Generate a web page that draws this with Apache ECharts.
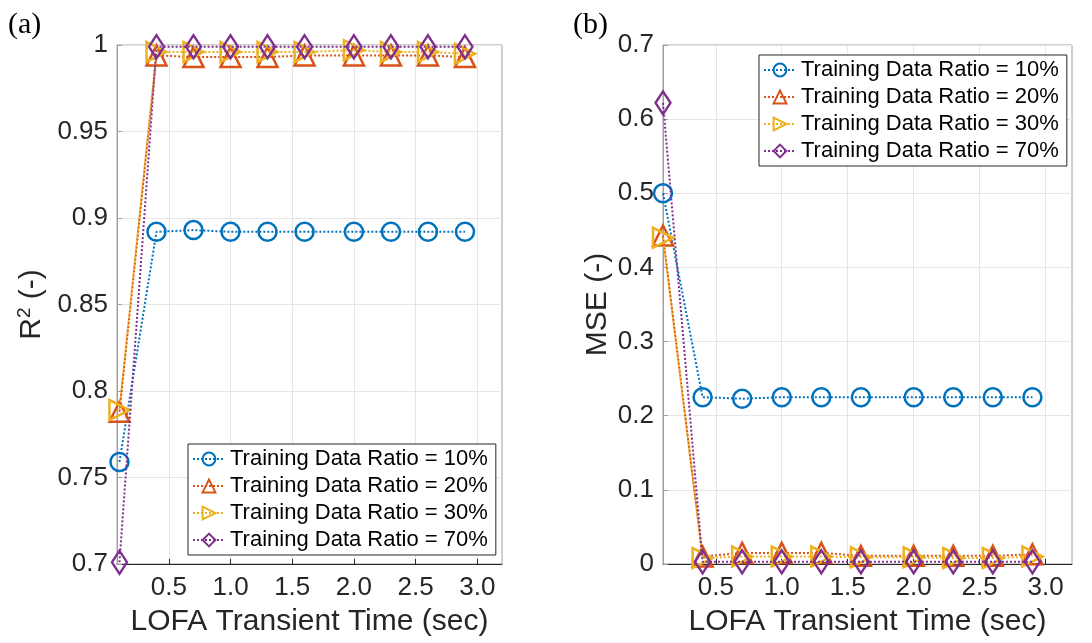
<!DOCTYPE html>
<html>
<head>
<meta charset="utf-8">
<script src="https://cdn.jsdelivr.net/npm/echarts@6/dist/echarts.min.js"></script>
<style>
  html, body { margin: 0; padding: 0; background: #fff; }
  #main { width: 1092px; height: 643px; }
</style>
</head>
<body>
<div id="main"></div>
<script>
// transient times (sec)
var xVals = [0.1, 0.4, 0.7, 1.0, 1.3, 1.6, 2.0, 2.3, 2.6, 2.9];
var xTicks = [0.5, 1.0, 1.5, 2.0, 2.5, 3.0];

var seriesNames = ['Training Data Ratio = 10%', 'Training Data Ratio = 20%',
                   'Training Data Ratio = 30%', 'Training Data Ratio = 70%'];

// (a) R^2
var r2_10 = [0.759, 0.892, 0.893, 0.892, 0.892, 0.892, 0.892, 0.892, 0.892, 0.892];
var r2_20 = [0.788, 0.994, 0.993, 0.993, 0.993, 0.994, 0.994, 0.994, 0.994, 0.993];
var r2_30 = [0.789, 0.996, 0.996, 0.996, 0.996, 0.996, 0.997, 0.996, 0.996, 0.995];
var r2_70 = [0.701, 0.999, 0.999, 0.999, 0.999, 0.999, 0.999, 0.999, 0.999, 0.999];

// (b) MSE
var mse_10 = [0.500, 0.225, 0.223, 0.225, 0.225, 0.225, 0.225, 0.225, 0.225, 0.225];
var mse_20 = [0.443, 0.010, 0.015, 0.015, 0.015, 0.011, 0.011, 0.011, 0.011, 0.013];
var mse_30 = [0.440, 0.008, 0.010, 0.010, 0.010, 0.009, 0.009, 0.008, 0.008, 0.010];
var mse_70 = [0.622, 0.003, 0.003, 0.003, 0.003, 0.003, 0.003, 0.003, 0.003, 0.003];

var colors = ['#0072BD', '#D95319', '#EDB120', '#7E2F8E'];
var symbols = ['circle', 'triangle', 'triangle', 'diamond'];
var rotates = [0, 0, -90, 0];
var sizes = [18, 20, 20, [15, 23]];

function pairs(ys) {
  return xVals.map(function (x, i) { return [x, ys[i]]; });
}

function makeSeries(idx, ys, k) {
  return {
    name: seriesNames[k],
    type: 'line',
    xAxisIndex: idx,
    yAxisIndex: idx,
    data: pairs(ys),
    symbol: symbols[k],
    symbolRotate: rotates[k],
    symbolSize: sizes[k],
    showAllSymbol: true,
    lineStyle: { color: colors[k], width: 2, type: [2, 2] },
    itemStyle: { color: 'rgba(255,255,255,0)', borderColor: colors[k], borderWidth: 2.5 },
    emphasis: { disabled: true },
    z: 3 + k
  };
}

function xAxisOpt(idx, min) {
  return {
    type: 'value', gridIndex: idx, min: min, max: 3.2,
    name: 'LOFA Transient Time (sec)', nameLocation: 'middle', nameGap: 43,
    nameTextStyle: { fontFamily: 'Liberation Sans', fontSize: 30, color: '#262626' },
    axisLine: { show: true, onZero: false, lineStyle: { color: '#262626', width: 1 } },
    axisTick: { show: true, inside: true, length: 5, customValues: xTicks, lineStyle: { color: '#262626' } },
    axisLabel: { customValues: xTicks, fontFamily: 'Liberation Sans', fontSize: 26, color: '#262626', margin: 11,
      formatter: function (v) { return v.toFixed(1); } },
    splitLine: { show: true, lineStyle: { color: '#e6e6e6', width: 1 } }
  };
}

var chart = echarts.init(document.getElementById('main'));
var option = {
  animation: false,
  backgroundColor: '#fff',
  grid: [
    { left: 117, right: 590, top: 45, bottom: 79, show: true, borderColor: '#a0a0a0', borderWidth: 1 },
    { left: 663, right: 20, top: 45, bottom: 79, show: true, borderColor: '#a0a0a0', borderWidth: 1 }
  ],
  graphic: [
    { type: 'text', left: 8, top: 10, style: { text: '(a)', font: '30px "Liberation Serif"', fill: '#000' } },
    { type: 'text', left: 573, top: 10, style: { text: '(b)', font: '30px "Liberation Serif"', fill: '#000' } }
  ],
  legend: [
    {
      data: seriesNames, orient: 'vertical', left: 188, top: 444,
      backgroundColor: '#fff', borderColor: '#262626', borderWidth: 1,
      padding: [4, 8, 4, 4], itemGap: 5, itemWidth: 32, itemHeight: 16,
      textStyle: { fontFamily: 'Liberation Sans', fontSize: 22, color: '#000' },
      selectedMode: false
    },
    {
      data: seriesNames, orient: 'vertical', left: 759, top: 55,
      backgroundColor: '#fff', borderColor: '#262626', borderWidth: 1,
      padding: [4, 8, 4, 4], itemGap: 5, itemWidth: 32, itemHeight: 16,
      textStyle: { fontFamily: 'Liberation Sans', fontSize: 22, color: '#000' },
      selectedMode: false
    }
  ],
  xAxis: [xAxisOpt(0, 0.08), xAxisOpt(1, 0.1)],
  yAxis: [
    {
      type: 'value', gridIndex: 0, min: 0.7, max: 1, interval: 0.05,
      name: 'R{sup|2} (-)', nameLocation: 'middle', nameGap: 68,
      nameTextStyle: { fontFamily: 'Liberation Sans', fontSize: 30, color: '#262626',
        rich: { sup: { fontFamily: 'Liberation Sans', fontSize: 19, color: '#262626', padding: [0, 0, 15, 0] } } },
      axisLine: { show: true, lineStyle: { color: '#a0a0a0' } },
      axisTick: { show: true, inside: true, length: 5, lineStyle: { color: '#a0a0a0' } },
      axisLabel: { fontFamily: 'Liberation Sans', fontSize: 26, color: '#262626', margin: 9,
        formatter: function (v) { return String(+v.toFixed(2)); } },
      splitLine: { show: true, lineStyle: { color: '#e6e6e6', width: 1 } }
    },
    {
      type: 'value', gridIndex: 1, min: 0, max: 0.7, interval: 0.1,
      name: 'MSE (-)', nameLocation: 'middle', nameGap: 50,
      nameTextStyle: { fontFamily: 'Liberation Sans', fontSize: 30, color: '#262626' },
      axisLine: { show: true, lineStyle: { color: '#a0a0a0' } },
      axisTick: { show: true, inside: true, length: 5, lineStyle: { color: '#a0a0a0' } },
      axisLabel: { fontFamily: 'Liberation Sans', fontSize: 26, color: '#262626', margin: 9,
        formatter: function (v) { return v === 0 ? '0' : v.toFixed(1); } },
      splitLine: { show: true, lineStyle: { color: '#e6e6e6', width: 1 } }
    }
  ],
  series: [
    makeSeries(0, r2_10, 0), makeSeries(0, r2_20, 1), makeSeries(0, r2_30, 2), makeSeries(0, r2_70, 3),
    makeSeries(1, mse_10, 0), makeSeries(1, mse_20, 1), makeSeries(1, mse_30, 2), makeSeries(1, mse_70, 3)
  ]
};
chart.setOption(option);
</script>
</body>
</html>
